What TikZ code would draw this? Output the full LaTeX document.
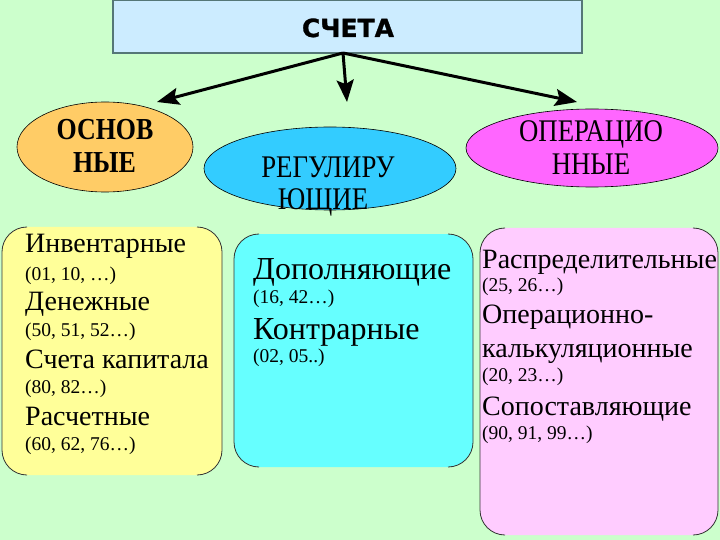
\documentclass[tikz,border=0pt]{standalone}
\usepackage{fontspec}
\usetikzlibrary{shapes.geometric,arrows.meta}
\newfontfamily\tnr{Liberation Serif}
\newfontfamily\tnrc[FakeStretch=0.85]{Liberation Serif}
\newfontfamily\dvsb[FakeBold=1.2]{DejaVu Sans Bold}
\definecolor{bg}{HTML}{CCFFCC}
\definecolor{topfill}{HTML}{CCECFF}
\definecolor{topdraw}{HTML}{557777}
\definecolor{orng}{HTML}{FFCC66}
\definecolor{skyb}{HTML}{33CCFF}
\definecolor{mgnt}{HTML}{FF66FF}
\definecolor{yelw}{HTML}{FFFF99}
\definecolor{cyanb}{HTML}{66FFFF}
\definecolor{pnk}{HTML}{FFCCFF}
\tikzset{
  ell/.style={ellipse, draw=black, line width=0.6pt, inner sep=0pt},
  elltext/.style={anchor=base, inner sep=0pt, font=\tnrc\fontsize{31.5}{33}\selectfont},
  bigt/.style={anchor=base west, inner sep=0pt, font=\tnr\fontsize{28}{30}\selectfont},
  smallt/.style={anchor=base west, inner sep=0pt, font=\tnr\fontsize{19.5}{22}\selectfont},
  arr/.style={line width=3pt, -{Stealth[length=22pt,width=17pt,inset=4pt]}},
  boxedge/.style={draw=black!80, line width=0.8pt},
}
\newcommand{\cornerbox}[6]{%
  \fill[#6, rounded corners=#5pt] (#1,#2) rectangle (#3,#4);
  \draw[boxedge] ({#1+#5},#2) arc[start angle=90,end angle=180,radius=#5pt] -- (#1,{#4-#5}) arc[start angle=180,end angle=270,radius=#5pt];
  \draw[boxedge] ({#3-#5},#2) arc[start angle=90,end angle=0,radius=#5pt] -- (#3,{#4-#5}) arc[start angle=0,end angle=-90,radius=#5pt];
}
\begin{document}
\begin{tikzpicture}[x=1pt,y=-1pt]
\useasboundingbox (0,0) rectangle (720,540);
\fill[bg] (0,0) rectangle (720,540);

% top box
\node[draw=topdraw, fill=topfill, line width=1.2pt, minimum width=469pt, minimum height=53pt, inner sep=0pt] (top) at (347.5,26.5) {};
\node[anchor=base, inner sep=0pt, font=\dvsb\fontsize{25}{28}\selectfont] (toptext) at (348,37) {СЧЕТА};

% ellipses
\node[ell, fill=orng, minimum width=176pt, minimum height=90pt] (osn) at (105,147) {};
\node[ell, fill=skyb, minimum width=252pt, minimum height=83pt] (reg) at (330,168.5) {};
\node[ell, fill=mgnt, minimum width=252pt, minimum height=78pt] (oper) at (592,148) {};

\node[elltext, font=\tnrc\bfseries\fontsize{30.5}{33}\selectfont] (osn1) at (105,140) {ОСНОВ};
\node[elltext, font=\tnrc\bfseries\fontsize{30.5}{33}\selectfont] (osn2) at (104.5,173) {НЫЕ};
\node[elltext] (reg1) at (328,178) {РЕГУЛИРУ};
\node[elltext] (reg2) at (323,210) {ЮЩИЕ};
\node[elltext] (oper1) at (591,142) {ОПЕРАЦИО};
\node[elltext] (oper2) at (591,175) {ННЫЕ};

% arrows
\coordinate (o) at (343,53);
\coordinate (tL) at (157,102);
\coordinate (tC) at (347,102);
\coordinate (tR) at (577,102);
\draw[arr] (o) -- (tL);
\draw[arr] (o) -- (tC);
\draw[arr] (o) -- (tR);

% boxes
\cornerbox{2}{227}{222}{475}{25}{yelw}
\cornerbox{234}{234}{473}{467}{25}{cyanb}
\cornerbox{480}{228}{718}{535}{25}{pnk}

% left box text
\node[bigt] (a1) at (25,252) {Инвентарные};
\node[smallt] (a2) at (25,280) {(01, 10, …)};
\node[bigt] (a3) at (25,310) {Денежные};
\node[smallt] (a4) at (25,336) {(50, 51, 52…)};
\node[bigt] (a5) at (25,368) {Счета капитала};
\node[smallt] (a6) at (25,393) {(80, 82…)};
\node[bigt] (a7) at (25,425) {Расчетные};
\node[smallt] (a8) at (25,450) {(60, 62, 76…)};

% middle box text
\node[bigt, font=\tnr\fontsize{32}{34}\selectfont] (b1) at (253,279) {Дополняющие};
\node[smallt] (b2) at (253,303) {(16, 42…)};
\node[bigt, font=\tnr\fontsize{32}{34}\selectfont] (b3) at (253,339) {Контрарные};
\node[smallt] (b4) at (253,362) {(02, 05..)};

% right box text
\node[bigt] (c1) at (482,268) {Распределительные};
\node[smallt] (c2) at (482,291) {(25, 26…)};
\node[bigt] (c3) at (482,323) {Операционно-};
\node[bigt] (c4) at (482,357) {калькуляционные};
\node[smallt] (c5) at (482,381) {(20, 23…)};
\node[bigt] (c6) at (482,415) {Сопоставляющие};
\node[smallt] (c7) at (482,439) {(90, 91, 99…)};
\end{tikzpicture}
\end{document}
